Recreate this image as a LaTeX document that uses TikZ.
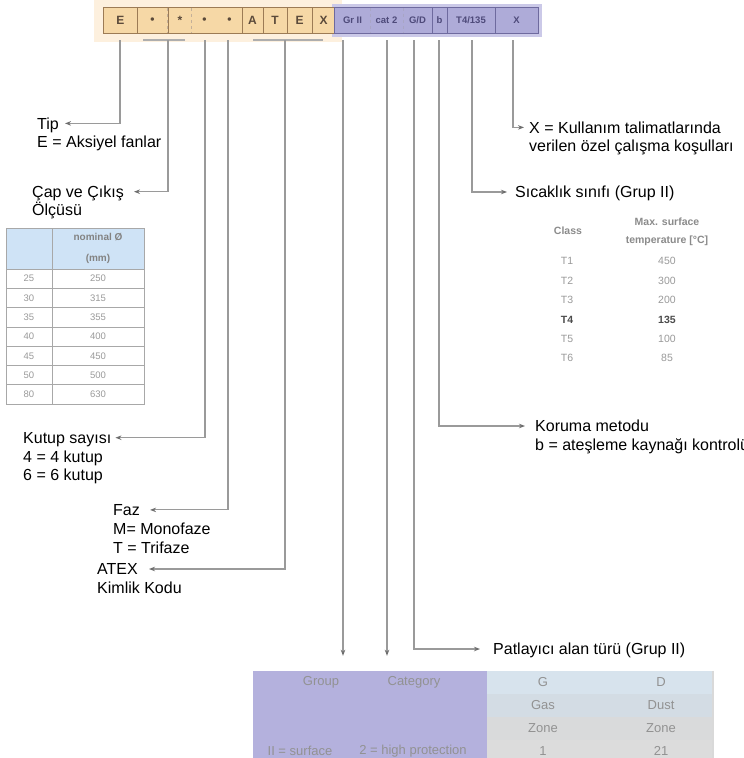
\documentclass[tikz,border=0pt]{standalone}
\usepackage{fontspec}
\setmainfont{Liberation Sans}
\usetikzlibrary{arrows.meta}
\definecolor{linegray}{HTML}{9A9A9A}
\definecolor{arrowgray}{HTML}{6E6E6E}
\definecolor{orfill}{HTML}{F6D8A6}
\definecolor{orglow}{HTML}{FDF0DE}
\definecolor{ordraw}{HTML}{9C7B55}
\definecolor{ortext}{HTML}{5B4A3A}
\definecolor{pufill}{HTML}{AEABD8}
\definecolor{puglow}{HTML}{CBC9E8}
\definecolor{pudraw}{HTML}{6E6A9E}
\definecolor{putext}{HTML}{4E4A7A}
\definecolor{hdrblue}{HTML}{CFE3F6}
\definecolor{tblline}{HTML}{A8A8A8}
\definecolor{tbltext}{HTML}{9A9A9A}
\definecolor{tblpurple}{HTML}{B4B1DD}
\definecolor{bandA}{HTML}{D7E3ED}
\definecolor{bandB}{HTML}{D3DCE4}
\definecolor{bandC}{HTML}{D9DADB}
\definecolor{bandD}{HTML}{DCDCDC}
\begin{document}
\begin{tikzpicture}[x=1pt,y=-1pt,
  conn/.style={draw=linegray,line width=1.1pt,-{Stealth[length=6pt,width=4.5pt,color=arrowgray]}},
  brk/.style={draw=linegray!80,line width=1.1pt},
  lbl/.style={anchor=base west,inner sep=0pt,text height=11.2pt,text depth=0pt,font=\fontsize{16}{19}\selectfont,text=black},
  ocell/.style={inner sep=0pt,minimum height=25pt,font=\fontsize{12}{12}\selectfont\bfseries,text=ortext},
  pcell/.style={inner sep=0pt,minimum height=25pt,font=\fontsize{9.5}{10}\selectfont\bfseries,text=putext},
  tcell/.style={draw=tblline,line width=0.7pt,inner sep=0pt,font=\fontsize{9.5}{10}\selectfont,text=tbltext},
  ttxt/.style={inner sep=0pt,font=\fontsize{10.5}{11}\selectfont,text=tbltext},
  thdr/.style={inner sep=0pt,font=\fontsize{10.5}{11}\selectfont\bfseries,text=tbltext!90!black},
  btxt/.style={inner sep=0pt,font=\fontsize{13}{13}\selectfont,text=tbltext!95!black}]
\useasboundingbox (0,0) rectangle (744,758);
\fill[white] (0,0) rectangle (744,758);
% glow behind bars
\fill[orglow] (94,0) rectangle (342,42);
\fill[puglow] (332,4) rectangle (542,37);
% orange cells
\fill[orfill] (104,8) rectangle (335,33);
\node[ocell,minimum width=33pt] (c1) at (120.5,20.5) {E};
\node[ocell,minimum width=31pt] (c2) at (152.5,20.5) {•};
\node[ocell,minimum width=24pt] (c3) at (180,20.5) {*};
\node[ocell,minimum width=25pt] (c4) at (204.5,20.5) {•};
\node[ocell,minimum width=25pt] (c5) at (229.5,20.5) {•};
\node[ocell,minimum width=21pt] (c6) at (252.5,20.5) {A};
\node[ocell,minimum width=24pt] (c7) at (275,20.5) {T};
\node[ocell,minimum width=25pt] (c8) at (299.5,20.5) {E};
\node[ocell,minimum width=23pt] (c9) at (323.5,20.5) {X};
\draw[ordraw,line width=0.9pt] (c1.north west) rectangle (c9.south east);
\foreach \c in {c1,c2,c5,c6,c7,c8}
  \draw[ordraw,line width=0.8pt] (\c.north east) -- (\c.south east);
\foreach \c in {c3,c4}
  \draw[ordraw!60,line width=0.7pt,dashed] (\c.north west) -- (\c.south west);
% purple cells
\fill[pufill] (335,8) rectangle (538,33);
\node[pcell,minimum width=35pt] (p1) at (352.5,20.5) {Gr II};
\node[pcell,minimum width=33pt] (p2) at (386.5,20.5) {cat 2};
\node[pcell,minimum width=29pt] (p3) at (417.5,20.5) {G/D};
\node[pcell,minimum width=15pt] (p4) at (439.5,20.5) {b};
\node[pcell,minimum width=48pt] (p5) at (471,20.5) {T4/135};
\node[pcell,minimum width=43pt] (p6) at (516.5,20.5) {X};
\draw[pudraw,line width=0.9pt] (p1.north west) rectangle (p6.south east);
\foreach \c in {p3,p4,p5}
  \draw[pudraw,line width=0.8pt] (\c.north east) -- (\c.south east);
\foreach \c in {p1,p2}
  \draw[pudraw!60,line width=0.7pt,dashed] (\c.north east) -- (\c.south east);
% connector start points
\coordinate (tipTop) at (120,40);
\coordinate (capL) at (143,40); \coordinate (capR) at (185,40);
\coordinate (capTop) at (168,40);
\coordinate (kutTop) at (205,40);
\coordinate (fazTop) at (228,40);
\coordinate (atxL) at (253,40); \coordinate (atxR) at (323,40);
\coordinate (atxTop) at (285,40);
\coordinate (grpTop) at (343,40);
\coordinate (catTop) at (387,40);
\coordinate (gdTop) at (414,40);
\coordinate (bTop) at (439,40);
\coordinate (tTop) at (472,40);
\coordinate (xTop) at (513,40);
\draw[brk] (capL) -- (capR);
\draw[brk] (atxL) -- (atxR);
% left labels
\node[lbl] (tip) at (37,129) {Tip};
\node[lbl] (tip2) at (37,147.5) {E = Aksiyel fanlar};
\node[lbl] (cap) at (32,197.3) {Çap ve Çıkış};
\node[lbl] (cap2) at (32,215.8) {Ölçüsü};
\node[lbl] (kut) at (23,443.3) {Kutup sayısı};
\node[lbl] (kut2) at (23,462) {4 = 4 kutup};
\node[lbl] (kut3) at (23,480.5) {6 = 6 kutup};
\node[lbl] (faz) at (113,515.5) {Faz};
\node[lbl] (faz2) at (113,534.5) {M= Monofaze};
\node[lbl] (faz3) at (113,553.5) {T = Trifaze};
\node[lbl] (atx) at (97,574.6) {ATEX};
\node[lbl] (atx2) at (97,593) {Kimlik Kodu};
% right labels
\node[lbl] (xl) at (529,133) {X = Kullanım talimatlarında};
\node[lbl] (xl2) at (529,151.5) {verilen özel çalışma koşulları};
\node[lbl] (sic) at (515,197.6) {Sıcaklık sınıfı (Grup II)};
\node[lbl] (kor) at (535,431.6) {Koruma metodu};
\node[lbl] (kor2) at (535,450) {b = ateşleme kaynağı kontrolü};
\node[lbl] (pat) at (493,654.6) {Patlayıcı alan türü (Grup II)};
% left connectors
\draw[conn] (tipTop) |- ([xshift=6pt]tip.east);
\draw[conn] (capTop) |- ([xshift=10pt]cap.east);
\draw[conn] (kutTop) |- ([xshift=4pt]kut.east);
\draw[conn] (fazTop) |- ([xshift=10pt]faz.east);
\draw[conn] (atxTop) |- ([xshift=11pt]atx.east);
% right connectors
\draw[conn] (xTop) |- ([xshift=-5pt]xl.west);
\draw[conn] (tTop) |- ([xshift=-8pt]sic.west);
\draw[conn] (bTop) |- ([xshift=-10pt]kor.west);
\draw[conn] (gdTop) |- ([xshift=-13pt]pat.west);
% left table
\node[tcell,fill=hdrblue,minimum width=46pt,minimum height=41pt] (h1) at (29,248.5) {};
\node[tcell,fill=hdrblue,minimum width=92pt,minimum height=41pt,align=center,font=\fontsize{10}{21}\selectfont\bfseries,text=tbltext!85!black] (h2) at (98,248.5) {nominal Ø\\(mm)};
\foreach \a/\b [count=\i] in {25/250,30/315,35/355,40/400,45/450,50/500,80/630}{
  \node[tcell,minimum width=46pt,minimum height=19.3pt] (r\i a) at (29,{269+(\i-0.5)*19.3}) {\a};
  \node[tcell,minimum width=92pt,minimum height=19.3pt] (r\i b) at (98,{269+(\i-0.5)*19.3}) {\b};
}
% temperature table
\node[thdr] (thc) at (568,231) {Class};
\node[thdr] (thm) at (667,222) {Max. surface};
\node[thdr] (tht) at (667,241) {temperature [°C]};
\foreach \t/\v/\y in {T1/450/261,T2/300/280.5,T3/200/300,T5/100/339,T6/85/358}{
  \node[ttxt] (tc\t) at (567,\y) {\t};
  \node[ttxt] (tv\t) at (667,\y) {\v};
}
\node[ttxt,font=\fontsize{10.5}{11}\selectfont\bfseries,text=black!70] (tcT4) at (567,319.5) {T4};
\node[ttxt,font=\fontsize{10.5}{11}\selectfont\bfseries,text=black!70] (tvT4) at (667,319.5) {135};
% bottom table
\node[fill=tblpurple,inner sep=0pt,minimum width=234pt,minimum height=87pt] (gtbl) at (370,714.5) {};
\node[fill=bandA,inner sep=0pt,minimum width=226pt,minimum height=23pt] (bA) at (600,682.5) {};
\node[fill=bandB,inner sep=0pt,minimum width=226pt,minimum height=23pt] (bB) at (600,705.5) {};
\node[fill=bandC,inner sep=0pt,minimum width=226pt,minimum height=23pt] (bC) at (600,728.5) {};
\node[fill=bandD,inner sep=0pt,minimum width=226pt,minimum height=18pt] (bD) at (600,749) {};
\draw[black!15,line width=2pt] (bA.north east) -- (bD.south east);
\node[btxt] (tg) at (321,682) {Group};
\node[btxt] (tcat) at (414,682) {Category};
\node[btxt] (tgsurf) at (300,751) {II = surface};
\node[btxt] (tcathp) at (413,751) {2 = high protection};
\node[btxt] (tG) at (543,682) {G};
\node[btxt] (tD) at (661,682) {D};
\node[btxt] (tGas) at (543,705) {Gas};
\node[btxt] (tDust) at (661,705) {Dust};
\node[btxt] (tZ1) at (543,728) {Zone};
\node[btxt] (tZ2) at (661,728) {Zone};
\node[btxt] (t1) at (543,751) {1};
\node[btxt] (t21) at (661,751) {21};
% arrows into bottom table
\draw[conn,shorten >=15pt] (grpTop) -- (grpTop |- gtbl.north);
\draw[conn,shorten >=15pt] (catTop) -- (catTop |- gtbl.north);
\end{tikzpicture}
\end{document}
